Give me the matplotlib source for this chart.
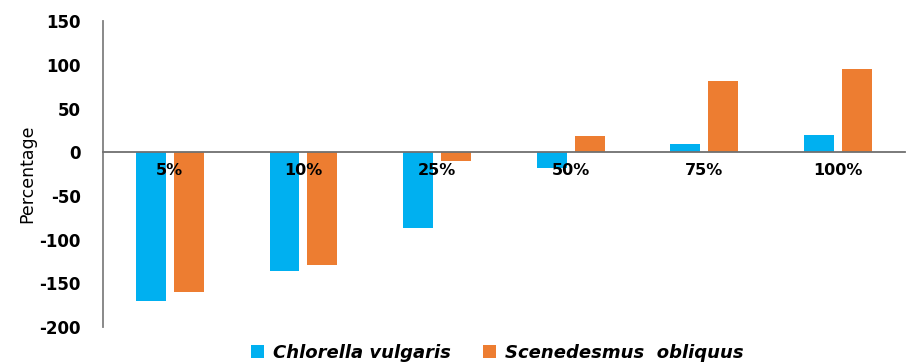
import numpy as np
import matplotlib.pyplot as plt

categories = ["5%", "10%", "25%", "50%", "75%", "100%"]
chlorella = [-170, -136, -87, -18, 9, 20]
scenedesmus = [-160, -129, -10, 19, 82, 95]
series_names = ["Chlorella vulgaris", "Scenedesmus  obliquus"]
yticks = [-200, -150, -100, -50, 0, 50, 100, 150]

blue = "#00B0F0"
orange = "#ED7D31"

fig = plt.figure(figsize=(9.07, 3.62), dpi=100)
ax = fig.add_axes([0.1136, 0.0967, 0.884, 0.845])

x = np.arange(len(categories))
w = 0.224
off = 0.142
ax.bar(x - off, chlorella, w, color=blue, label=series_names[0])
ax.bar(x + off, scenedesmus, w, color=orange, label=series_names[1])

ax.set_xlim(-0.5, len(categories) - 0.5)
ax.set_ylim(-200, 150)
ax.set_yticks(yticks)
ax.set_yticklabels([str(v) for v in yticks], fontsize=12, fontweight="bold",
                   family="DejaVu Sans")
ax.tick_params(axis="y", length=0, pad=16)

# category labels sit on the zero line
ax.spines["bottom"].set_position(("data", 0))
ax.spines["bottom"].set_color("#707070")
ax.spines["bottom"].set_linewidth(1.3)
ax.set_xticks(x)
ax.set_xticklabels(categories, fontsize=11.5, fontweight="bold", family="DejaVu Sans")
ax.tick_params(axis="x", length=0, pad=8)

ax.spines["left"].set_color("#808080")
ax.spines["left"].set_linewidth(1.3)
ax.spines["top"].set_visible(False)
ax.spines["right"].set_visible(False)

ax.set_ylabel("Percentage", fontsize=12.5, family=["Liberation Sans Narrow", "DejaVu Sans"],
              labelpad=2)

fig.legend(loc="center", bbox_to_anchor=(0.548, 0.025), ncol=2, frameon=False,
           prop={"family": "DejaVu Sans", "style": "italic", "weight": "bold", "size": 13},
           handlelength=0.7, handleheight=0.7, handletextpad=0.5, columnspacing=1.8)

fig.savefig("out.png", dpi=100)
